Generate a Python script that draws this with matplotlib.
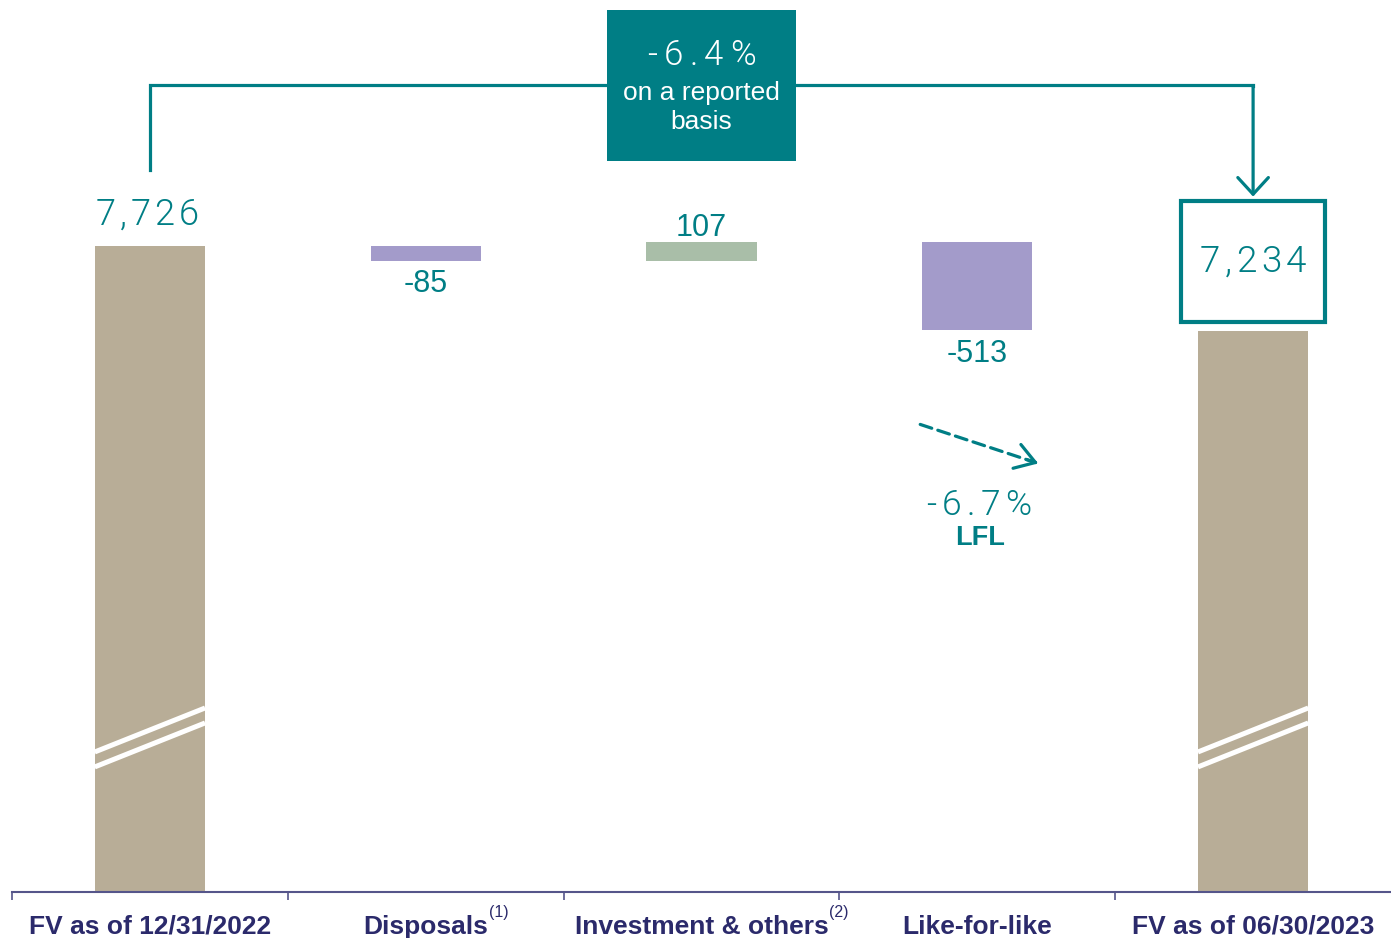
import matplotlib.pyplot as plt
from matplotlib.patches import Rectangle, FancyArrowPatch
from matplotlib.font_manager import FontProperties
from matplotlib.textpath import text_to_path
import numpy as np

plt.rcParams.update({"font.family": ["Liberation Sans", "DejaVu Sans"]})

categories = ["FV as of 12/31/2022", "Disposals", "Investment & others",
              "Like-for-like", "FV as of 06/30/2023"]
notes = ["", "(1)", "(2)", "", ""]
fv_start = 7726
changes = [-85, 107, -513]
fv_end = 7234
reported_change = "-6.4%"
lfl_change = "-6.7%"

TEAL = "#007E85"
TAN = "#B8AD97"
PURPLE = "#A39BCA"
GREEN = "#A9BEA8"
NAVY = "#2B2A6B"
AXIS = "#55558A"

fig = plt.figure(figsize=(13.91, 9.38), dpi=100)
ax = fig.add_axes([12 / 1391, 46 / 938, 1379 / 1391, 892 / 938])

# broken value axis: the bars start well above zero
y_bottom = 3970
unit = 1 / 0.172            # value units per pixel
ax.set_xlim(-0.5, 4.5)
ax.set_ylim(y_bottom, y_bottom + 892 * unit)
y_top = ax.get_ylim()[1]


def gap(px):
    return px * unit


def tracked(xy, s, size, width_px, dy=0, color=TEAL, zorder=6):
    """Letter-spaced light text, centred on xy and stretched to width_px."""
    prop = FontProperties(family=["Roboto", "DejaVu Sans"], weight=300, size=size)
    ink = [text_to_path.get_text_width_height_descent(c, prop, False)[0] for c in s]
    step = (width_px * 0.72 - sum(ink)) / (len(s) - 1)
    pos = -width_px * 0.72 / 2
    for c, wd in zip(s, ink):
        ax.annotate(c, xy, xytext=(pos, dy), textcoords="offset points",
                    ha="left", va="baseline", fontproperties=prop,
                    color=color, zorder=zorder, annotation_clip=False)
        pos += wd + step


x = np.arange(len(categories))
running = fv_start + np.concatenate([[0], np.cumsum(changes)])
w = 0.4

ax.bar(x[0], fv_start - y_bottom, bottom=y_bottom, width=w, color=TAN, zorder=2)
ax.bar(x[-1], fv_end - y_bottom, bottom=y_bottom, width=w, color=TAN, zorder=2)
for i, d in enumerate(changes):
    ax.bar(x[i + 1], d, bottom=running[i], width=w,
           color=PURPLE if d < 0 else GREEN, zorder=2)

# white double slash marking the axis break
for xc in (x[0], x[-1]):
    for b in (4912, 4825):
        ax.plot([xc - w / 2, xc + w / 2], [b - gap(22), b + gap(22)],
                color="white", lw=3.6, solid_capstyle="butt", zorder=3)

# value labels
tracked((x[0] - 0.01, fv_start), f"{fv_start:,}", 26, 103, dy=15.1)
for i, d in enumerate(changes):
    if d < 0:
        y, off = min(running[i], running[i + 1]), -22.5
    else:
        y, off = max(running[i], running[i + 1]), 4.5
    ax.annotate(f"{d:,}", (x[i + 1], y), xytext=(0, off),
                textcoords="offset points", ha="center", va="baseline",
                color=TEAL, fontsize=22)

# boxed end value
box_bottom = fv_end + gap(9)
box_top = box_bottom + gap(121)
ax.add_patch(Rectangle((x[-1] - 0.261, box_bottom), 0.522, box_top - box_bottom,
                       fill=False, edgecolor=TEAL, lw=3, zorder=4))
tracked((x[-1], box_bottom + gap(50)), f"{fv_end:,}", 26.5, 106)

# reported change callout
call_top = y_top - gap(10)
call_bottom = y_top - gap(161)
call_mid = (call_top + call_bottom) / 2
ax.plot([x[0], x[0], x[-1], x[-1]],
        [fv_start + gap(76), call_mid, call_mid, call_mid - gap(1)],
        color=TEAL, lw=2.3, solid_joinstyle="miter", zorder=1)
ax.add_patch(FancyArrowPatch((x[-1], call_mid), (x[-1], box_top + gap(4)),
                             arrowstyle="->,head_length=12,head_width=11",
                             mutation_scale=1, color=TEAL, lw=2.3,
                             shrinkA=0, shrinkB=0, zorder=1))
ax.add_patch(Rectangle((x[2] - 0.342, call_bottom), 0.685, call_top - call_bottom,
                       facecolor=TEAL, edgecolor="none", zorder=5))
tracked((x[2], y_top - gap(65)), reported_change, 25, 108, color="white")
ax.text(x[2], y_top - gap(100), "on a reported", ha="center", va="baseline",
        color="white", fontsize=19, zorder=6)
ax.text(x[2], y_top - gap(129), "basis", ha="center", va="baseline",
        color="white", fontsize=19, zorder=6)

# like-for-like trend: dashed shaft, solid head
lfl_ref = running[-1]
tail = (x[3] - 0.207, lfl_ref - gap(94))
tip = (x[3] + 0.221, lfl_ref - gap(133))
ax.add_patch(FancyArrowPatch(tail, tip, arrowstyle="-", color=TEAL, lw=2.3,
                             linestyle=(0, (3.8, 2)), shrinkA=0, shrinkB=2))
neck = (tip[0] - 0.1 * (tip[0] - tail[0]), tip[1] - 0.1 * (tip[1] - tail[1]))
ax.add_patch(FancyArrowPatch(neck, tip, arrowstyle="->,head_length=14,head_width=9",
                             mutation_scale=1, color=TEAL, lw=2.3,
                             shrinkA=0, shrinkB=0))
tracked((x[3] + 0.005, lfl_ref - gap(185)), lfl_change, 25.5, 106)
ax.text(x[3] + 0.01, lfl_ref - gap(215), "LFL", ha="center", va="baseline",
        color=TEAL, fontsize=19.5, fontweight="bold")

# category axis
for side in ("left", "right", "top"):
    ax.spines[side].set_visible(False)
ax.spines["bottom"].set_color(AXIS)
ax.spines["bottom"].set_linewidth(1.5)
ax.set_yticks([])
ax.set_xticks(np.arange(-0.5, 4, 1.0), labels=[])
ax.tick_params(axis="x", direction="out", length=6, width=1.2, color=AXIS)

for xi, cat, note in zip(x, categories, notes):
    t = ax.annotate(cat, (xi, 0), xycoords=("data", "axes fraction"),
                    xytext=(0, -30.2), textcoords="offset points",
                    ha="center", va="baseline", color=NAVY,
                    fontsize=19, fontweight="bold", annotation_clip=False)
    if note:
        ax.annotate(note, (1, 1), xycoords=t, xytext=(0.5, 7),
                    textcoords="offset points", ha="left", va="top",
                    color=NAVY, fontsize=11.5)

fig.savefig("out.png", dpi=100)
